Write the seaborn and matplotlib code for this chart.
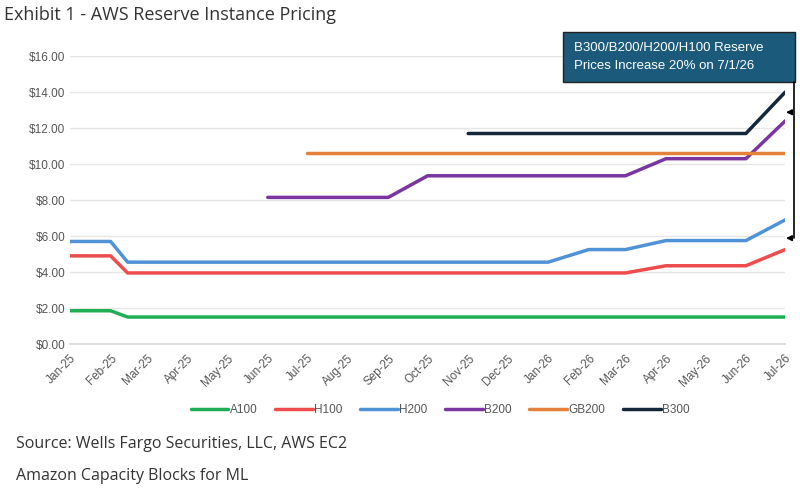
import pandas as pd
import matplotlib
matplotlib.use("Agg")
import matplotlib.pyplot as plt
import matplotlib.patches as mpatches
import seaborn as sns

# Data (price per GPU-hour, USD)
a100_dates = ["2025-01-01", "2025-02-01", "2025-02-14", "2026-07-01"]
a100_vals = [1.85, 1.85, 1.50, 1.50]

h100_dates = ["2025-01-01", "2025-02-01", "2025-02-14", "2026-03-01", "2026-04-01", "2026-06-01", "2026-07-01"]
h100_vals = [4.90, 4.90, 3.95, 3.95, 4.35, 4.35, 5.25]

h200_dates = ["2025-01-01", "2025-02-01", "2025-02-14", "2026-01-01", "2026-02-01", "2026-03-01",
              "2026-04-01", "2026-06-01", "2026-07-01"]
h200_vals = [5.70, 5.70, 4.55, 4.55, 5.25, 5.25, 5.75, 5.75, 6.90]

b200_dates = ["2025-06-01", "2025-09-01", "2025-10-01", "2026-03-01", "2026-04-01", "2026-06-01", "2026-07-01"]
b200_vals = [8.15, 8.15, 9.35, 9.35, 10.30, 10.30, 12.40]

gb200_dates = ["2025-07-01", "2026-07-01"]
gb200_vals = [10.60, 10.60]

b300_dates = ["2025-11-01", "2026-06-01", "2026-07-01"]
b300_vals = [11.70, 11.70, 14.00]

series = [
    ("A100", a100_dates, a100_vals, "#1fae55"),
    ("H100", h100_dates, h100_vals, "#ee4c4c"),
    ("H200", h200_dates, h200_vals, "#4f93d6"),
    ("B200", b200_dates, b200_vals, "#7a35a0"),
    ("GB200", gb200_dates, gb200_vals, "#e4813b"),
    ("B300", b300_dates, b300_vals, "#15273a"),
]

sns.set_theme(style="whitegrid")
plt.rcParams['font.family'] = ['Liberation Sans', 'DejaVu Sans']

fig = plt.figure(figsize=(8, 4.88), dpi=100)
ax = fig.add_axes([0.0875, 0.295, 0.894, 0.59])

for name, d, v, c in series:
    df = pd.DataFrame({"date": pd.to_datetime(d), "price": v})
    sns.lineplot(data=df, x="date", y="price", ax=ax, color=c, linewidth=2.5, label=name, legend=False)

ax.set_xlim(pd.Timestamp("2025-01-01"), pd.Timestamp("2026-07-01"))
ax.set_ylim(0, 16)
ax.set_yticks(range(0, 17, 2))
ax.set_yticklabels([f"${t:.2f}" for t in range(0, 17, 2)], fontsize=8.5, color="#555555")
months = pd.date_range("2025-01-01", "2026-07-01", freq="MS")
ax.set_xticks(months)
ax.set_xticklabels([m.strftime("%b-%y") for m in months], rotation=45, ha="right",
                   rotation_mode="anchor", fontsize=8.5, color="#555555")
ax.set_xlabel("")
ax.set_ylabel("")
ax.grid(axis="x", visible=False)
ax.grid(axis="y", color="#e6e6e6", linewidth=1)
for s in ["top", "right", "left"]:
    ax.spines[s].set_visible(False)
ax.spines["bottom"].set_color("#d9d9d9")
ax.tick_params(axis="x", length=4, color="#d9d9d9", pad=2)
ax.tick_params(axis="y", length=0)

handles, labels = ax.get_legend_handles_labels()
fig.legend(handles, labels, loc="center", bbox_to_anchor=(0.55, 0.16), ncol=6, frameon=False,
           fontsize=8.5, handlelength=3.2, handletextpad=0.1, columnspacing=1.5, labelcolor="#555555")

fig.text(0.005, 0.97, "Exhibit 1 - AWS Reserve Instance Pricing", fontsize=13, color="#333333",
         va="center", family=["Open Sans", "DejaVu Sans"])
fig.text(0.02, 0.09, "Source: Wells Fargo Securities, LLC, AWS EC2", fontsize=11.5, color="#333333",
         va="center", family=["Open Sans", "DejaVu Sans"])
fig.text(0.02, 0.025, "Amazon Capacity Blocks for ML", fontsize=11.5, color="#333333",
         va="center", family=["Open Sans", "DejaVu Sans"])

# annotation box and bracket
fig.add_artist(mpatches.Rectangle((0.704, 0.832), 0.29, 0.102, transform=fig.transFigure,
                                  facecolor="#1b5a7a", edgecolor="#222222", lw=1))
fig.text(0.718, 0.883, "B300/B200/H200/H100 Reserve\nPrices Increase 20% on 7/1/26", fontsize=9.5,
         color="white", va="center", ha="left", linespacing=1.6)
fig.add_artist(plt.Line2D([0.992, 0.992], [0.832, 0.512], color="black", lw=1.2))
for yy in [0.77, 0.512]:
    ax.annotate("", xy=(0.979, yy), xytext=(0.993, yy), xycoords="figure fraction",
                arrowprops=dict(arrowstyle="-|>", color="black", lw=1.2, mutation_scale=8))

fig.savefig("out.png", dpi=100)
